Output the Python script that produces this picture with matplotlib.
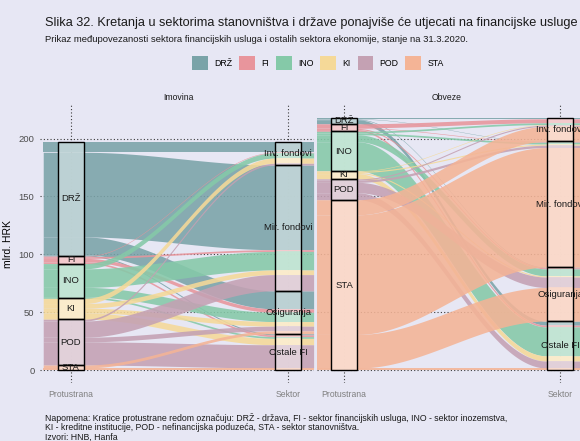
import numpy as np
import matplotlib.pyplot as plt
from matplotlib.patches import Rectangle, Patch

plt.rcParams['font.family'] = ['Liberation Sans', 'DejaVu Sans']

BG = "#E7E7F4"

protustrana = ["DRŽ", "FI", "INO", "KI", "POD", "STA"]
sektor = ["Inv. fondovi", "Mir. fondovi", "Osiguranja", "Ostale FI"]
boje = ["#7AA3A8", "#E8959C", "#85C9A8", "#F5D998", "#C4A1B3", "#F4B496"]

# mlrd. HRK, redovi = protustrana, stupci = sektor
imovina_tokovi = [
    [9, 73, 15.5, 1],
    [0.5, 1.5, 3, 1.5],
    [4.5, 16, 8, 1.5],
    [4.5, 4, 4, 5.5],
    [1.5, 14, 4, 20],
    [0, 0, 2.5, 2.1],
]
obveze_tokovi = [
    [0.5, 0.3, 0.5, 3.5],
    [3.5, 0.5, 1, 1.5],
    [1.5, 1.5, 6, 25],
    [0.5, 1, 1, 4.5],
    [1, 2, 9, 6],
    [13, 103.2, 29, 2],
]

W, H = 580, 441
BW = 0.062      # pola sirine stratuma
EXT_L, EXT_R = 0.128, 0.118


def lighten(c, f=0.5):
    c = np.array(plt.matplotlib.colors.to_rgb(c))
    return tuple(1 - (1 - c) * f)


def draw_panel(ax, flows):
    flows = np.array(flows, float)
    lt = flows.sum(1)
    rt = flows.sum(0)
    total = flows.sum()
    left_top = total - np.concatenate([[0], np.cumsum(lt)[:-1]])
    right_top = total - np.concatenate([[0], np.cumsum(rt)[:-1]])

    t = np.linspace(0, 1, 120)
    c = 0.35
    k0, k1 = 1 + BW, 2 - BW
    xb = k0 + (k1 - k0) * (3 * c * (1 - t) ** 2 * t + 3 * (1 - c) * (1 - t) * t ** 2 + t ** 3)
    s = 3 * t ** 2 - 2 * t ** 3
    x = np.concatenate([[1 - EXT_L], xb, [2 + EXT_R]])

    for i in range(len(protustrana)):
        for j in range(len(sektor)):
            v = flows[i, j]
            if v <= 0:
                continue
            yl = left_top[i] - flows[i, :j].sum()
            yr = right_top[j] - flows[:i, j].sum()
            top = yl + (yr - yl) * s
            top = np.concatenate([[yl], top, [yr]])
            ax.fill_between(x, top - v, top, color=boje[i], alpha=0.88, lw=0, zorder=2)

    # stratumi lijevo
    for i, name in enumerate(protustrana):
        y0 = left_top[i] - lt[i]
        ax.add_patch(Rectangle((1 - BW, y0), 2 * BW, lt[i], facecolor=lighten(boje[i], 0.45),
                               alpha=0.9, lw=0, zorder=3))
        ax.add_patch(Rectangle((1 - BW, y0), 2 * BW, lt[i], fill=False, edgecolor='black',
                               lw=1.0, zorder=4))
        ax.text(1, y0 + lt[i] / 2, name, ha='center', va='center', fontsize=6.8,
                color='#1a1a1a', zorder=5)
    # stratumi desno
    for j, name in enumerate(sektor):
        y0 = right_top[j] - rt[j]
        ytop = right_top[j]
        for i in range(len(protustrana)):
            v = flows[i, j]
            if v <= 0:
                continue
            ax.add_patch(Rectangle((2 - BW, ytop - v), 2 * BW, v, facecolor=lighten(boje[i], 0.45),
                                   alpha=0.9, lw=0, zorder=3))
            ytop -= v
        ax.add_patch(Rectangle((2 - BW, y0), 2 * BW, rt[j], fill=False, edgecolor='black',
                               lw=1.0, zorder=4))
        ax.text(2, y0 + rt[j] / 2, name, ha='center', va='center', fontsize=6.8,
                color='#1a1a1a', zorder=5)


fig = plt.figure(figsize=(W / 100, H / 100), dpi=100, facecolor=BG)

ax_bottom, ax_top = 383, 105
panels = [(40, 314, 71, 217), (317, 591, 344, 216)]
axes = []
for left, right, x1, ppu in panels:
    ax = fig.add_axes([left / W, 1 - ax_bottom / H, (right - left) / W, (ax_bottom - ax_top) / H])
    ax.set_facecolor(BG)
    ax.set_xlim(1 + (left - x1) / ppu, 1 + (right - x1) / ppu)
    ax.set_ylim(-10.9, 228.9)
    for sp in ax.spines.values():
        sp.set_visible(False)
    ax.set_xticks([1, 2])
    ax.set_xticklabels(["Protustrana", "Sektor"], fontsize=6.2, color='#7f7f7f')
    ax.set_yticks([0, 50, 100, 150, 200])
    ax.grid(True, linestyle=(0, (1, 2)), color='#3a3a3a', lw=0.8, zorder=1)
    ax.set_axisbelow(True)
    ax.tick_params(length=0, pad=5)
    axes.append(ax)

axes[0].set_yticklabels(["0", "50", "100", "150", "200"], fontsize=6.8, color='#4d4d4d')
axes[0].tick_params(axis='y', pad=4)
axes[1].set_yticklabels([])
axes[0].set_ylabel("mlrd. HRK", fontsize=7.5, labelpad=4)

draw_panel(axes[0], imovina_tokovi)
draw_panel(axes[1], obveze_tokovi)

fig.text(178 / W, 1 - 98 / H, "Imovina", ha='center', va='center', fontsize=6.2, color='#1a1a1a')
fig.text(447 / W, 1 - 98 / H, "Obveze", ha='center', va='center', fontsize=6.2, color='#1a1a1a')

fig.text(45 / W, 1 - 23 / H, "Slika 32. Kretanja u sektorima stanovništva i države ponajviše će utjecati na financijske usluge",
         ha='left', va='center', fontsize=9.2, color='#1a1a1a')
fig.text(45 / W, 1 - 39 / H, "Prikaz međupovezanosti sektora financijskih usluga i ostalih sektora ekonomije, stanje na 31.3.2020.",
         ha='left', va='center', fontsize=6.8, color='#1a1a1a')

handles = [Patch(facecolor=b, edgecolor='none') for b in boje]
fig.legend(handles, protustrana, loc='center', bbox_to_anchor=(318 / W, 1 - 63 / H), ncol=6,
           frameon=False, fontsize=6.3, handlelength=1.8, handleheight=2.0, handletextpad=0.7,
           columnspacing=0.8, borderpad=0)

napomena = ("Napomena: Kratice protustrane redom označuju: DRŽ - država, FI - sektor financijskih usluga, INO - sektor inozemstva,\n"
            "KI - kreditne institucije, POD - nefinancijska poduzeća, STA - sektor stanovništva.\n"
            "Izvori: HNB, Hanfa")
fig.text(45 / W, 1 - 413 / H, napomena, ha='left', va='top', fontsize=6.3, color='#1a1a1a',
         linespacing=1.05)

fig.savefig("out.png", dpi=100, facecolor=BG)
